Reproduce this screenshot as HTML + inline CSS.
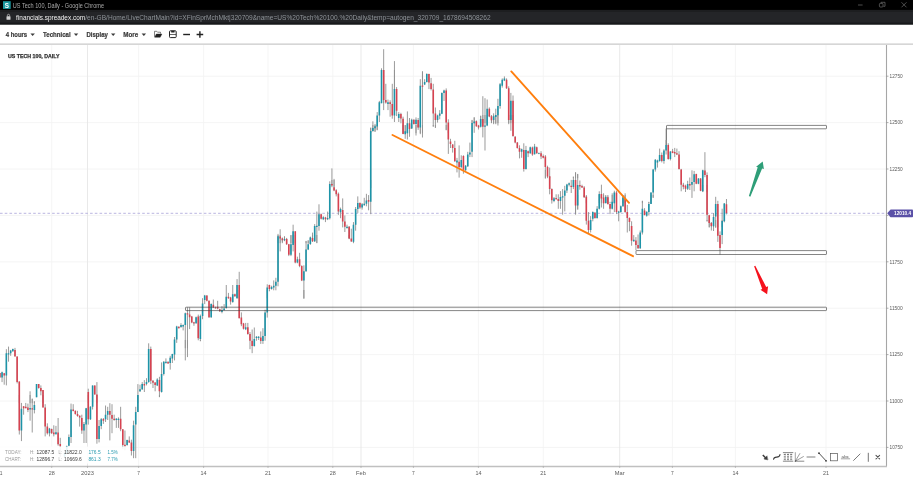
<!DOCTYPE html>
<html lang="en"><head><meta charset="utf-8"><title>US Tech 100, Daily - Google Chrome</title>
<style>
html,body{margin:0;padding:0;background:#fff;}
body{width:913px;height:479px;overflow:hidden;position:relative;font-family:"Liberation Sans",sans-serif;}
svg{display:block}
</style></head><body>
<svg id="chart" width="913" height="479" viewBox="0 0 913 479" style="position:absolute;left:0;top:0">
<path d="M0 76.2H886M0 122.6H886M0 169.0H886M0 215.4H886M0 261.8H886M0 308.2H886M0 354.6H886M0 401.0H886M0 447.4H886" stroke="#f1f1f1" stroke-width="0.8" fill="none"/>
<path d="M51.7 45V466M138.6 45V466M203.6 45V466M268.0 45V466M332.8 45V466M413.4 45V466M478.4 45V466M543.3 45V466M672.4 45V466M735.4 45V466M826.0 45V466" stroke="#f3f3f3" stroke-width="0.8" fill="none"/>
<path d="M87.5 45V466M361.0 45V466M619.7 45V466" stroke="#e6e6e6" stroke-width="0.9" fill="none"/>
<path d="M0 213.3H886" stroke="#b2aedc" stroke-width="0.9" stroke-dasharray="2.6 2.14" fill="none"/>
<!--CANDLES-->
<path d="M666.5 128.5V145" stroke="#555" stroke-width="0.9" fill="none"/>
<path d="M-0.11 372.9V377.5M2.05 371.6V382.1M4.21 372.9V384.7M6.36 349.2V385.4M8.52 346.6V361.7M10.67 349.9V355.8M12.83 348.6V351.8M14.99 347.9V356.4M17.14 356.4V383.4M19.30 381.4V403.2M30.08 391.3V403.2M32.23 398.6V403.2M34.39 401.2V403.2M36.55 384.1V397.2M38.70 384.1V388.7M40.86 385.4V395.3M43.01 390.0V403.2M88.29 388.7V403.2M92.60 385.4V403.2M94.76 385.4V394.6M96.91 382.1V403.2M19.30 395.0V434.5M21.45 402.9V441.1M23.61 406.2V414.7M25.77 402.9V408.2M27.92 403.6V412.1M30.08 395.0V420.7M32.23 398.9V432.5M34.39 401.6V413.4M36.55 395.0V397.0M43.01 395.0V407.5M45.17 404.2V436.4M47.33 423.3V434.5M49.48 427.9V436.4M51.64 428.6V433.8M53.79 425.3V436.4M55.95 425.9V434.5M58.11 418.0V445.7M60.26 437.8V456.8M64.57 451.6V456.8M66.73 445.7V452.9M68.89 434.5V446.3M71.04 403.6V443.0M73.20 404.2V411.4M75.35 410.5V414.7M77.51 410.8V416.7M79.67 415.4V426.6M81.82 414.7V433.8M83.98 422.0V443.0M86.13 407.9V443.0M88.29 395.0V424.6M90.45 406.2V420.0M92.60 395.0V409.5M96.91 395.0V443.7M99.07 420.0V442.4M101.23 418.0V429.2M103.38 418.0V423.9M105.54 405.5V422.0M107.69 406.8V420.0M109.85 403.2V440.4M112.01 404.2V433.2M114.16 414.7V420.7M116.32 418.0V427.9M118.47 417.4V427.9M120.63 406.8V431.2M122.79 429.2V448.9M124.94 430.5V450.3M127.10 439.7V445.7M129.25 436.4V443.0M131.41 439.7V455.5M133.57 420.7V458.2M135.72 406.8V458.2M137.88 395.0V412.1M159.44 395.0V397.0M137.88 384.1V403.2M140.03 384.7V392.0M142.19 382.1V390.0M144.35 380.1V392.0M146.50 378.2V385.4M148.66 343.3V382.8M150.81 346.6V384.1M152.97 380.1V388.0M155.13 382.1V391.3M157.28 378.2V386.1M159.44 376.8V397.2M161.59 362.4V392.6M163.75 361.1V375.5M165.91 358.4V363.7M168.06 361.1V363.7M170.22 355.8V369.6M172.37 353.8V363.0M174.53 340.0V360.4M185.31 340.0V360.4M187.47 340.0V357.1M200.40 340.0V341.3M174.53 337.0V348.2M176.69 325.8V342.9M178.84 326.4V328.4M181.00 323.2V327.8M183.15 324.5V330.4M185.31 312.6V348.2M187.47 307.4V348.2M189.62 307.4V329.1M191.78 315.9V323.2M193.93 321.8V325.8M196.09 316.6V323.8M198.25 314.6V340.3M200.40 314.6V340.9M202.56 298.2V319.2M204.71 294.9V304.1M206.87 295.3V301.4M209.03 300.5V317.9M211.18 303.4V317.9M213.34 299.5V308.0M215.49 306.7V308.7M217.65 300.8V309.3M219.81 308.7V312.0M221.96 306.1V313.3M224.12 304.1V310.7M226.27 285.0V308.7M228.43 292.9V298.8M230.59 296.8V304.7M232.74 285.0V302.8M234.90 293.6V296.8M237.05 290.0V298.6M239.21 290.0V318.3M241.37 312.4V326.2M243.52 322.9V329.5M245.68 322.9V330.1M247.83 322.9V334.7M249.99 332.1V349.2M252.15 329.5V353.2M254.30 327.5V346.6M256.46 336.1V340.7M258.61 336.1V340.0M260.77 331.4V343.9M262.93 328.2V343.9M265.08 309.7V340.7M267.24 290.0V317.6M269.39 290.0V291.3M303.89 290.0V298.9M237.05 279.1V298.2M239.21 271.8V298.2M267.24 284.3V298.2M269.39 284.7V290.3M271.55 285.7V289.6M273.71 280.4V290.3M275.86 277.8V290.3M278.02 235.0V286.3M280.17 235.0V251.4M282.33 237.6V242.2M284.49 236.3V240.9M286.64 238.7V244.9M288.80 243.9V256.1M290.95 235.0V256.1M293.11 235.0V251.4M295.27 235.0V263.3M297.42 256.7V263.3M299.58 252.8V267.2M301.73 265.3V281.1M303.89 265.3V298.2M306.05 240.9V271.8M308.20 240.3V250.1M310.36 237.0V244.9M312.51 235.0V241.6M314.67 235.0V241.6M316.83 235.0V242.9M349.17 235.0V238.3M278.02 233.9V243.2M280.17 229.3V243.2M282.33 237.9V243.2M284.49 236.6V241.2M286.64 237.9V243.2M290.95 235.3V243.2M293.11 224.7V243.2M295.27 231.3V243.2M306.05 241.2V243.2M308.20 240.5V243.2M310.36 236.6V243.2M312.51 232.6V241.8M314.67 224.1V241.8M316.83 211.6V243.2M318.98 204.3V230.7M321.14 213.6V219.5M323.29 216.2V220.1M325.45 216.8V222.1M327.61 211.6V220.1M329.76 181.3V219.5M331.92 180.0V187.2M334.07 180.0V191.2M336.23 189.2V196.4M338.39 192.5V214.9M340.54 207.6V218.2M342.70 198.4V227.4M344.85 215.5V232.0M347.01 224.7V228.7M349.17 226.7V238.6M349.17 226.1V239.2M351.32 228.7V241.8M353.48 222.1V243.2M355.63 207.0V230.7M357.79 196.4V212.9M359.95 202.4V208.9M362.10 203.0V209.6M364.26 197.8V205.7M366.41 193.8V206.3M368.57 195.1V210.3M370.73 180.0V214.2M370.73 127.6V188.2M372.88 125.0V131.6M375.04 125.0V131.6M377.19 125.0V130.3M403.07 125.0V134.2M405.22 125.0V138.8M407.38 125.0V139.5M409.53 125.0V136.8M411.69 125.0V128.3M416.00 125.0V135.5M418.16 125.0V127.4M420.31 125.0V134.2M422.47 125.0V137.5M433.25 125.0V126.6M435.41 125.0V127.6M446.19 125.0V130.3M448.34 125.0V153.9M450.50 138.8V148.0M452.65 144.1V152.6M454.81 140.8V161.8M456.97 157.9V172.4M459.12 145.4V177.6M461.28 155.3V168.4M463.43 155.3V173.7M370.73 127.9V133.2M372.88 121.3V131.2M375.04 123.9V131.8M377.19 112.1V129.9M379.35 100.9V122.0M381.51 70.0V102.9M383.66 70.0V110.1M385.82 83.8V103.6M387.97 99.6V110.1M390.13 100.3V116.7M392.29 83.8V118.7M394.44 70.0V122.0M396.60 87.1V116.1M398.75 112.1V122.0M400.91 112.8V123.3M403.07 116.7V133.2M405.22 125.3V133.2M407.38 111.4V133.2M409.53 118.0V133.2M411.69 118.7V128.9M413.85 119.3V124.6M416.00 117.4V133.2M418.16 118.0V129.9M420.31 79.2V133.2M422.47 71.3V133.2M424.63 79.2V85.1M426.78 73.3V82.5M428.94 73.7V89.1M431.09 77.9V90.4M433.25 83.8V126.6M435.41 107.5V127.9M437.56 114.7V122.6M439.72 110.1V119.3M441.87 92.4V114.1M444.03 89.7V100.9M446.19 88.4V129.9M448.34 119.3V133.2M381.51 68.3V103.2M383.66 49.2V103.2M394.44 61.1V89.3M422.47 71.6V85.4M472.06 119.9V123.2M474.21 117.2V123.2M476.37 120.5V123.2M480.68 115.9V123.2M482.84 96.2V123.2M484.99 98.2V123.2M487.15 99.5V123.2M489.31 107.4V117.2M491.46 115.9V123.2M493.62 113.3V123.2M495.77 108.7V123.2M497.93 98.8V123.2M500.09 83.0V108.7M502.24 78.4V87.6M504.40 76.4V81.1M506.55 78.4V88.9M508.71 86.3V123.2M510.87 92.9V123.2M513.02 95.5V123.2M465.59 165.0V170.9M467.75 151.8V167.0M469.90 142.6V157.1M472.06 120.3V157.1M474.21 117.6V132.8M476.37 120.9V126.8M478.53 124.9V129.5M480.68 115.7V127.5M482.84 115.0V137.4M484.99 115.0V150.5M487.15 115.0V126.2M489.31 115.0V116.3M491.46 115.0V122.9M493.62 115.0V124.2M495.77 115.0V124.2M497.93 115.0V125.5M508.71 115.0V124.2M510.87 115.0V130.8M513.02 115.0V136.7M515.18 136.1V143.3M517.33 142.0V148.6M519.49 145.3V158.4M521.65 148.6V157.8M523.80 143.3V171.6M525.96 145.9V169.6M528.11 150.5V157.1M530.27 146.6V153.8M532.43 146.6V155.8M534.58 143.9V154.5M536.74 146.6V153.8M538.89 152.5V154.2M541.05 151.2V159.1M543.21 154.5V158.4M545.36 155.1V178.2M547.52 165.7V178.2M549.67 167.6V178.2M573.39 176.8V178.2M575.55 172.2V178.2M577.70 174.2V178.2M545.36 170.0V178.6M547.52 170.0V176.6M549.67 176.6V194.3M551.83 188.4V203.6M553.99 197.0V202.2M556.14 194.3V199.6M558.30 194.3V208.8M560.45 191.1V208.8M562.61 189.1V214.7M564.77 185.8V211.4M566.92 183.8V193.0M569.08 182.5V186.4M571.23 179.9V193.0M573.39 176.6V189.1M575.55 172.6V214.7M577.70 173.9V209.5M579.86 180.5V189.7M582.01 184.7V188.0M584.17 186.1V197.9M586.33 195.9V203.2M599.26 191.3V203.2M601.42 184.7V203.2M603.57 193.3V203.2M605.73 195.9V203.2M607.89 196.6V203.2M610.04 201.8V203.2M612.20 193.3V203.2M614.35 190.7V203.2M616.51 190.7V203.2M622.98 196.6V203.2M625.13 193.3V203.2M642.38 200.8V203.2M648.85 201.8V203.2M651.01 192.4V203.2M653.16 168.9V197.9M655.32 159.1V171.6M657.47 159.7V167.6M659.63 148.6V161.7M661.79 152.5V162.4M663.94 149.2V163.7M666.10 140.0V154.5M668.25 143.3V159.7M670.41 151.2V160.4M672.57 148.9V153.2M674.72 147.9V157.1M676.88 148.6V155.1M679.03 151.2V169.6M681.19 168.9V191.3M683.35 182.8V189.3M685.50 184.7V192.0M687.66 180.8V190.0M689.81 177.5V190.0M691.97 170.3V197.9M694.13 170.9V191.3M575.55 195.0V214.1M577.70 195.0V209.5M584.17 195.0V197.0M586.33 195.0V224.6M588.48 212.1V233.2M590.64 216.1V232.5M592.79 211.4V221.3M594.95 212.1V218.7M597.11 206.2V218.7M599.26 195.0V209.5M601.42 195.0V207.5M603.57 195.0V208.8M605.73 195.0V202.9M607.89 195.0V204.2M610.04 203.6V214.1M612.20 195.0V209.5M614.35 195.0V212.1M616.51 195.0V214.1M618.67 210.8V221.3M620.82 205.5V212.8M622.98 195.0V206.8M625.13 195.0V212.8M627.29 204.9V232.5M629.45 217.4V231.2M631.60 221.3V245.7M633.76 235.1V241.7M635.91 237.1V250.3M638.07 234.5V248.9M640.23 230.5V248.9M642.38 200.9V234.5M644.54 208.2V215.4M646.69 211.4V216.7M648.85 202.2V215.4M651.01 195.0V203.9M653.16 195.0V197.6M666.10 128.6V145.0M696.28 173.7V184.2M698.44 178.1V184.2M700.59 178.1V191.2M702.75 169.7V192.1M704.91 152.2V177.2M707.06 172.4V192.1M700.59 185.0V190.7M702.75 185.0V191.6M707.06 185.0V221.4M709.22 214.8V227.1M711.37 222.3V227.1M713.53 213.1V227.1M715.69 196.8V227.1M717.84 200.8V227.1M722.15 208.7V227.1M724.31 203.0V222.3M726.47 199.0V214.4M707.06 220.0V221.3M709.22 220.0V227.5M711.37 222.2V230.5M713.53 220.0V231.0M715.69 220.0V227.9M717.84 220.0V241.9M720.00 231.4V254.6M722.15 220.0V244.1M724.31 220.0V221.3M331.92 168.4V185.1M334.07 178.9V186.8" stroke="#909090" stroke-width="0.9" fill="none"/>
<path d="M2.05 372.2V377.5M6.36 353.2V375.5M8.52 353.2V354.5M10.67 350.5V353.2M12.83 348.9V351.2M36.55 384.1V397.2M92.60 385.4V403.2M21.45 408.8V430.5M30.08 407.9V409.5M34.39 404.9V410.1M36.55 395.0V397.0M49.48 428.6V433.2M55.95 432.2V434.2M64.57 452.9V456.8M66.73 446.3V452.9M68.89 437.1V445.7M71.04 409.5V437.1M83.98 423.9V430.5M86.13 408.2V424.6M90.45 406.8V419.3M92.60 395.0V406.8M99.07 425.9V439.1M101.23 419.3V425.9M105.54 414.7V419.3M107.69 411.1V414.7M116.32 418.7V420.0M118.47 418.7V420.0M127.10 440.0V445.0M133.57 425.3V450.9M135.72 412.1V424.6M137.88 395.0V412.1M137.88 395.3V403.2M140.03 389.3V391.3M142.19 384.1V389.3M146.50 382.1V384.1M148.66 348.9V382.1M157.28 379.5V385.4M161.59 373.9V392.0M163.75 361.7V373.9M165.91 361.7V363.0M170.22 357.8V363.0M172.37 354.1V358.4M174.53 340.0V354.5M174.53 339.6V348.2M176.69 326.4V339.6M181.00 325.1V327.1M183.15 325.1V326.4M185.31 313.3V325.1M196.09 317.2V323.2M200.40 315.9V338.9M202.56 303.4V315.9M204.71 295.5V300.1M211.18 304.1V317.2M221.96 310.0V312.0M224.12 308.4V310.0M226.27 296.8V308.0M232.74 294.2V302.1M237.05 290.0V295.9M245.68 327.2V329.2M254.30 338.9V345.9M256.46 336.7V338.0M258.61 336.7V338.0M262.93 336.1V341.1M265.08 312.4V336.1M267.24 290.0V312.4M237.05 285.0V298.2M267.24 287.6V298.2M271.55 287.0V288.9M273.71 285.7V287.6M275.86 281.7V285.7M278.02 236.3V281.7M284.49 238.9V240.3M290.95 244.2V254.7M293.11 235.0V244.9M297.42 259.3V262.6M303.89 271.2V280.4M306.05 249.5V271.2M308.20 244.2V249.5M310.36 237.6V243.9M314.67 235.0V240.9M278.02 236.6V243.2M284.49 238.9V240.3M293.11 231.3V243.2M310.36 237.6V243.2M314.67 226.1V241.2M316.83 225.8V227.1M318.98 214.2V226.1M323.29 217.2V219.2M327.61 217.9V219.2M329.76 183.9V218.2M340.54 208.9V212.2M347.01 226.7V228.0M353.48 224.7V241.8M355.63 208.9V224.7M357.79 203.0V208.9M362.10 204.3V207.6M364.26 203.7V205.3M366.41 200.4V203.7M370.73 180.0V201.7M370.73 130.9V188.2M372.88 128.3V130.9M375.04 126.3V128.3M377.19 125.0V126.6M405.22 131.6V134.2M407.38 125.0V131.6M411.69 125.0V128.3M420.31 125.0V127.4M456.97 160.5V162.5M461.28 159.9V167.1M370.73 131.2V133.2M372.88 127.9V130.5M375.04 126.6V127.9M377.19 115.4V126.6M379.35 102.2V115.4M381.51 70.0V102.2M387.97 102.2V103.9M394.44 89.1V115.4M398.75 114.1V118.0M405.22 131.2V133.2M407.38 123.3V133.2M411.69 119.7V128.6M416.00 119.7V123.9M420.31 85.8V127.2M424.63 82.1V84.5M426.78 73.9V82.1M437.56 115.4V120.0M439.72 113.4V115.8M441.87 93.0V113.7M444.03 90.4V93.0M381.51 70.0V103.2M474.21 121.8V123.2M480.68 119.2V123.2M487.15 108.7V123.2M493.62 116.6V119.9M495.77 115.3V116.8M497.93 106.1V115.3M500.09 84.3V106.1M502.24 79.7V85.7M504.40 78.4V80.4M510.87 100.8V119.9M465.59 165.7V170.3M467.75 154.5V166.3M469.90 152.5V154.5M472.06 122.9V151.8M474.21 121.6V122.9M480.68 118.9V126.8M484.99 125.5V126.8M487.15 115.0V125.5M493.62 116.3V119.6M495.77 115.0V117.0M510.87 115.0V119.6M521.65 149.2V151.8M525.96 149.9V168.9M530.27 147.2V153.2M534.58 146.6V154.2M538.89 152.9V153.8M553.99 198.3V200.9M560.45 197.0V200.9M562.61 196.3V197.6M564.77 190.4V195.7M566.92 184.5V190.4M569.08 183.2V184.7M573.39 179.9V187.1M577.70 185.1V205.5M599.26 193.9V203.2M605.73 197.2V203.2M612.20 201.8V203.2M614.35 192.6V203.2M622.98 197.9V203.2M651.01 192.6V203.2M653.16 169.6V192.6M655.32 159.7V169.6M657.47 160.4V162.4M659.63 155.1V161.1M663.94 150.5V161.1M666.10 145.0V150.5M670.41 151.6V159.1M687.66 184.1V188.7M691.97 182.1V184.7M694.13 174.2V182.1M577.70 195.0V205.5M590.64 220.0V229.9M592.79 212.1V218.7M597.11 208.8V218.0M599.26 195.0V208.8M605.73 197.0V202.9M612.20 202.2V208.8M614.35 195.0V202.2M618.67 211.4V212.8M620.82 206.2V212.1M622.98 197.6V206.2M633.76 239.7V241.3M640.23 232.5V248.3M642.38 208.8V232.5M646.69 211.8V215.8M648.85 203.9V212.1M651.01 195.0V203.9M698.44 178.5V183.8M702.75 170.2V191.2M702.75 185.0V191.1M713.53 217.0V226.2M715.69 203.9V216.6M722.15 221.0V227.1M724.31 203.4V221.0M713.53 220.0V226.1M722.15 220.9V234.9M724.31 220.0V221.3" stroke="#1d94a8" stroke-width="1.6" fill="none"/>
<path d="M-0.11 372.9V377.5M4.21 373.2V375.5M14.99 349.9V356.4M17.14 356.4V382.1M19.30 381.4V403.2M38.70 384.1V388.0M40.86 388.0V391.3M43.01 390.0V403.2M88.29 392.0V403.2M94.76 385.4V394.6M96.91 394.6V403.2M19.30 395.0V430.5M23.61 406.2V408.2M25.77 406.8V408.2M27.92 407.5V410.1M32.23 408.2V409.5M43.01 395.0V407.5M45.17 407.5V426.6M47.33 426.6V433.2M51.64 428.9V433.2M53.79 432.5V434.2M58.11 432.5V444.3M60.26 443.9V446.3M73.20 409.5V411.1M75.35 410.8V414.1M77.51 414.1V416.1M79.67 415.8V417.6M81.82 418.0V430.5M88.29 395.0V419.3M96.91 395.0V439.1M103.38 419.1V420.7M109.85 411.1V414.7M112.01 415.0V418.7M114.16 418.7V420.0M120.63 418.7V429.2M122.79 429.2V445.0M124.94 444.7V446.1M129.25 440.4V442.4M131.41 442.4V450.9M144.35 384.1V385.4M150.81 348.9V380.8M152.97 380.8V382.8M155.13 382.4V385.0M159.44 380.1V391.3M168.06 362.0V363.4M178.84 326.8V328.2M187.47 313.3V314.6M189.62 314.6V317.2M191.78 316.6V322.5M193.93 322.2V323.6M198.25 316.6V338.3M206.87 295.5V300.8M209.03 300.8V317.2M213.34 304.7V307.4M215.49 307.4V308.3M217.65 306.7V308.4M219.81 309.3V311.3M228.43 296.8V298.2M230.59 297.5V301.4M234.90 294.2V296.2M239.21 290.0V318.3M241.37 317.6V324.2M243.52 323.6V328.8M247.83 327.2V334.1M249.99 334.1V340.7M252.15 340.7V345.9M260.77 337.4V341.1M239.21 285.0V298.2M269.39 285.0V288.9M280.17 236.6V238.3M282.33 238.7V240.3M286.64 238.9V244.2M288.80 244.2V254.7M295.27 235.0V262.6M299.58 259.3V265.9M301.73 265.9V280.4M312.51 237.9V240.9M349.17 235.0V238.3M280.17 236.6V238.6M282.33 238.6V240.3M286.64 239.2V243.2M295.27 231.3V243.2M312.51 237.9V241.2M321.14 214.2V218.8M325.45 217.5V219.2M331.92 183.9V185.5M334.07 187.2V190.5M336.23 190.3V194.2M338.39 193.8V211.6M342.70 210.0V221.4M344.85 221.4V226.7M349.17 226.7V238.6M351.32 238.6V241.6M359.95 203.0V207.6M368.57 200.0V201.7M403.07 125.0V133.9M409.53 125.0V128.9M418.16 125.0V127.4M448.34 125.0V139.5M450.50 141.4V144.1M452.65 144.5V148.0M454.81 148.0V161.2M459.12 161.8V167.1M463.43 155.9V169.7M383.66 70.0V99.6M385.82 100.0V102.6M390.13 102.2V103.9M392.29 103.9V115.4M396.60 89.1V110.8M400.91 114.1V118.4M403.07 118.7V133.2M409.53 123.3V128.6M413.85 119.7V123.9M418.16 120.0V127.2M422.47 85.5V86.8M428.94 73.9V82.5M431.09 83.2V89.1M433.25 89.5V113.4M435.41 113.4V120.0M446.19 90.4V122.6M448.34 122.6V133.2M383.66 70.0V99.9M476.37 121.2V123.2M482.84 119.2V123.2M489.31 108.7V116.6M491.46 116.6V119.9M506.55 79.7V88.3M508.71 88.3V119.9M513.02 100.8V123.2M476.37 121.6V126.2M478.53 125.5V127.5M482.84 118.9V126.8M489.31 115.0V116.3M491.46 116.3V120.3M508.71 115.0V119.6M513.02 115.0V136.1M515.18 136.7V142.6M517.33 142.6V147.9M519.49 147.9V151.8M523.80 149.9V168.9M528.11 151.2V153.2M532.43 147.6V154.5M536.74 147.2V153.2M541.05 153.2V156.4M543.21 156.1V157.8M545.36 156.4V167.0M547.52 167.0V176.2M549.67 176.2V178.2M547.52 170.0V176.6M549.67 176.6V189.1M551.83 189.1V200.3M556.14 197.9V199.2M558.30 198.9V200.9M571.23 185.8V187.1M575.55 179.9V205.5M579.86 185.1V186.4M582.01 186.1V187.6M584.17 187.6V197.2M586.33 196.8V203.2M601.42 193.9V198.6M603.57 197.9V203.2M607.89 197.2V203.2M616.51 192.6V203.2M625.13 199.2V203.2M661.79 155.1V161.1M668.25 145.0V159.1M672.57 151.2V152.9M674.72 152.1V153.4M676.88 153.2V154.5M679.03 154.5V168.9M681.19 169.6V184.7M683.35 184.7V186.7M685.50 185.8V188.7M689.81 184.1V185.4M575.55 195.0V205.5M584.17 195.0V197.0M586.33 197.0V220.7M588.48 220.7V229.9M594.95 212.8V218.0M601.42 195.0V197.6M603.57 197.6V202.2M607.89 197.6V204.2M610.04 203.9V208.8M616.51 195.0V212.1M625.13 198.9V212.1M627.29 212.1V218.0M629.45 218.0V222.0M631.60 225.9V240.8M635.91 240.4V245.0M638.07 245.0V248.3M644.54 210.5V215.0M696.28 174.1V183.8M700.59 178.5V190.8M704.91 170.6V175.0M707.06 175.0V192.1M700.59 185.0V190.7M707.06 185.0V214.8M709.22 215.3V222.7M711.37 223.2V225.8M717.84 203.9V227.1M726.47 204.3V213.1M709.22 220.0V223.1M711.37 223.1V226.1M717.84 220.0V235.8M720.00 234.9V248.1" stroke="#d74250" stroke-width="1.6" fill="none"/>

<g fill="none" stroke="#3f3f3f" stroke-opacity="0.8" stroke-width="0.8"><rect x="185.5" y="307.2" width="641" height="3.4" rx="0.6"/><rect x="636" y="250.6" width="190.5" height="3.9" rx="0.6"/><rect x="666.5" y="125.4" width="160" height="3.4" rx="0.6"/></g>
<path d="M511.3 71.4L629 202.8M392.5 135L633 256.2" stroke="#ff7f0e" stroke-width="1.9" stroke-linecap="round" fill="none"/>
<path d="M748.9 195.9L757.7 167.3L756.1 166.7L762.7 161.4L763.9 169.1L762.1 168.6L750.3 196.7Z" fill="#2e9e78"/>
<path d="M754.1 266.3L762.2 289L760.5 289.8L767.1 294.2L768.1 286.3L766.2 287.1L755.3 265.7Z" fill="#f5121d"/>
<path d="M886.5 45V466.5" stroke="#a6a6a6" stroke-width="1.1" fill="none"/>
<path d="M0 466.5H887" stroke="#c0c0c0" stroke-width="1.3" fill="none"/>
<path d="M886.5 76.2h2M886.5 122.6h2M886.5 169.0h2M886.5 215.4h2M886.5 261.8h2M886.5 308.2h2M886.5 354.6h2M886.5 401.0h2M886.5 447.4h2" stroke="#8a8a8a" stroke-width="0.7" fill="none"/>
<path d="M51.7 466v2M87.5 466v2M138.6 466v2M203.6 466v2M268.0 466v2M332.8 466v2M361.0 466v2M413.4 466v2M478.4 466v2M543.3 466v2M619.7 466v2M672.4 466v2M735.4 466v2M826.0 466v2" stroke="#aaa" stroke-width="0.7" fill="none"/>
<g font-family="Liberation Sans, sans-serif">
<text x="889.6" y="77.9" font-size="5.2" fill="#5a5a5a" font-weight="normal" textLength="13.1" lengthAdjust="spacingAndGlyphs">12750</text>
<text x="889.6" y="124.3" font-size="5.2" fill="#5a5a5a" font-weight="normal" textLength="13.1" lengthAdjust="spacingAndGlyphs">12500</text>
<text x="889.6" y="170.7" font-size="5.2" fill="#5a5a5a" font-weight="normal" textLength="13.1" lengthAdjust="spacingAndGlyphs">12250</text>
<text x="889.6" y="217.1" font-size="5.2" fill="#5a5a5a" font-weight="normal" textLength="13.1" lengthAdjust="spacingAndGlyphs">12000</text>
<text x="889.6" y="263.5" font-size="5.2" fill="#5a5a5a" font-weight="normal" textLength="13.1" lengthAdjust="spacingAndGlyphs">11750</text>
<text x="889.6" y="309.9" font-size="5.2" fill="#5a5a5a" font-weight="normal" textLength="13.1" lengthAdjust="spacingAndGlyphs">11500</text>
<text x="889.6" y="356.3" font-size="5.2" fill="#5a5a5a" font-weight="normal" textLength="13.1" lengthAdjust="spacingAndGlyphs">11250</text>
<text x="889.6" y="402.7" font-size="5.2" fill="#5a5a5a" font-weight="normal" textLength="13.1" lengthAdjust="spacingAndGlyphs">11000</text>
<text x="889.6" y="449.1" font-size="5.2" fill="#5a5a5a" font-weight="normal" textLength="13.1" lengthAdjust="spacingAndGlyphs">10750</text>
<text x="-0.2" y="474.5" font-size="6.2" fill="#5a5a5a" font-weight="normal" textLength="2.7" lengthAdjust="spacingAndGlyphs">1</text>
<text x="48.7" y="474.5" font-size="6.2" fill="#5a5a5a" font-weight="normal" textLength="6.0" lengthAdjust="spacingAndGlyphs">28</text>
<text x="81.1" y="474.5" font-size="6.2" fill="#5a5a5a" font-weight="normal" textLength="12.8" lengthAdjust="spacingAndGlyphs">2023</text>
<text x="137.2" y="474.5" font-size="6.2" fill="#5a5a5a" font-weight="normal" textLength="2.7" lengthAdjust="spacingAndGlyphs">7</text>
<text x="200.6" y="474.5" font-size="6.2" fill="#5a5a5a" font-weight="normal" textLength="6.0" lengthAdjust="spacingAndGlyphs">14</text>
<text x="265.0" y="474.5" font-size="6.2" fill="#5a5a5a" font-weight="normal" textLength="6.0" lengthAdjust="spacingAndGlyphs">21</text>
<text x="329.8" y="474.5" font-size="6.2" fill="#5a5a5a" font-weight="normal" textLength="6.0" lengthAdjust="spacingAndGlyphs">28</text>
<text x="356.1" y="474.5" font-size="6.2" fill="#5a5a5a" font-weight="normal" textLength="9.9" lengthAdjust="spacingAndGlyphs">Feb</text>
<text x="412.0" y="474.5" font-size="6.2" fill="#5a5a5a" font-weight="normal" textLength="2.7" lengthAdjust="spacingAndGlyphs">7</text>
<text x="475.4" y="474.5" font-size="6.2" fill="#5a5a5a" font-weight="normal" textLength="6.0" lengthAdjust="spacingAndGlyphs">14</text>
<text x="540.3" y="474.5" font-size="6.2" fill="#5a5a5a" font-weight="normal" textLength="6.0" lengthAdjust="spacingAndGlyphs">21</text>
<text x="614.8" y="474.5" font-size="6.2" fill="#5a5a5a" font-weight="normal" textLength="9.9" lengthAdjust="spacingAndGlyphs">Mar</text>
<text x="671.0" y="474.5" font-size="6.2" fill="#5a5a5a" font-weight="normal" textLength="2.7" lengthAdjust="spacingAndGlyphs">7</text>
<text x="732.4" y="474.5" font-size="6.2" fill="#5a5a5a" font-weight="normal" textLength="6.0" lengthAdjust="spacingAndGlyphs">14</text>
<text x="823.0" y="474.5" font-size="6.2" fill="#5a5a5a" font-weight="normal" textLength="6.0" lengthAdjust="spacingAndGlyphs">21</text>
</g>
<path d="M887.2 213.3L890.6 209.4H912.2Q913 209.4 913 210.2V216.4Q913 217.2 912.2 217.2H890.6Z" fill="#5a50a7"/>
<g font-family="Liberation Sans, sans-serif"><text x="894.1" y="215.1" font-size="5.0" fill="#fff" font-weight="bold" textLength="17.1" lengthAdjust="spacingAndGlyphs">12010.4</text></g>
<rect x="0" y="446.6" width="130" height="17" fill="#fff" fill-opacity="0.88"/>
<g font-family="Liberation Sans, sans-serif">
<text x="5.0" y="453.8" font-size="5.3" fill="#9a9a9a" font-weight="normal" textLength="16.6" lengthAdjust="spacingAndGlyphs">TODAY:</text>
<text x="30.0" y="453.8" font-size="5.3" fill="#9a9a9a" font-weight="normal" textLength="4.5" lengthAdjust="spacingAndGlyphs">H:</text>
<text x="36.6" y="453.8" font-size="5.3" fill="#3a3a3a" font-weight="normal" textLength="17.6" lengthAdjust="spacingAndGlyphs">12087.5</text>
<text x="58.6" y="453.8" font-size="5.3" fill="#9a9a9a" font-weight="normal" textLength="3.2" lengthAdjust="spacingAndGlyphs">L:</text>
<text x="64.1" y="453.8" font-size="5.3" fill="#3a3a3a" font-weight="normal" textLength="17.7" lengthAdjust="spacingAndGlyphs">11822.0</text>
<text x="88.4" y="453.8" font-size="5.3" fill="#2a9bb0" font-weight="normal" textLength="12.3" lengthAdjust="spacingAndGlyphs">176.5</text>
<text x="107.6" y="453.8" font-size="5.3" fill="#2a9bb0" font-weight="normal" textLength="10.2" lengthAdjust="spacingAndGlyphs">1.5%</text>
<text x="5.0" y="460.8" font-size="5.3" fill="#9a9a9a" font-weight="normal" textLength="16.0" lengthAdjust="spacingAndGlyphs">CHART:</text>
<text x="30.0" y="460.8" font-size="5.3" fill="#9a9a9a" font-weight="normal" textLength="4.5" lengthAdjust="spacingAndGlyphs">H:</text>
<text x="36.6" y="460.8" font-size="5.3" fill="#3a3a3a" font-weight="normal" textLength="17.6" lengthAdjust="spacingAndGlyphs">12896.7</text>
<text x="58.6" y="460.8" font-size="5.3" fill="#9a9a9a" font-weight="normal" textLength="3.2" lengthAdjust="spacingAndGlyphs">L:</text>
<text x="64.1" y="460.8" font-size="5.3" fill="#3a3a3a" font-weight="normal" textLength="17.7" lengthAdjust="spacingAndGlyphs">10669.6</text>
<text x="88.4" y="460.8" font-size="5.3" fill="#2a9bb0" font-weight="normal" textLength="12.3" lengthAdjust="spacingAndGlyphs">861.3</text>
<text x="107.6" y="460.8" font-size="5.3" fill="#2a9bb0" font-weight="normal" textLength="10.2" lengthAdjust="spacingAndGlyphs">7.7%</text>
</g>
<g stroke="#3c3c3c" stroke-width="0.8" fill="none" stroke-linecap="round">
<path d="M762.8 455L766 458.2" stroke-width="1.5" stroke-linecap="butt"/><path d="M767.6 459.8L763.9 459L766.8 456.1Z" fill="#3c3c3c" stroke-width="0.5"/>
<path d="M773.6 459.3c0.2-2.2 1.6-2.2 3-2.2s3.2 0 3.4-2.6" stroke-width="1.1"/>
<path d="M783.3 452.6h9.6M783.3 461.2h9.6" stroke-width="0.7" stroke="#555"/>
<path d="M783.8 454.6h8.8M783.8 456.9h8.8M783.8 459.2h8.8" stroke-width="0.8" stroke-dasharray="2 1.2" stroke-linecap="butt"/>
<path d="M785.2 453v8M788.1 453v8M791 453v8" stroke-width="0.4" stroke="#999"/>
<path d="M795.3 452.6v8.6" stroke="#999" stroke-width="0.9"/><path d="M795.3 461.2h8.6" stroke-width="0.6"/><path d="M795.3 461.2L799.8 453.6M795.3 461.2L803.4 456.6" stroke-width="0.5"/>
<path d="M806.6 457h8.8" stroke-width="1.1" stroke="#8a8a8a" stroke-linecap="butt"/>
<path d="M819 453.2L826 460.8" stroke-width="0.9"/><circle cx="819" cy="453.2" r="0.9" fill="#3c3c3c" stroke="none"/><circle cx="826" cy="460.8" r="0.9" fill="#3c3c3c" stroke="none"/>
<rect x="830.4" y="453.4" width="7.2" height="7.4" stroke-width="0.7" stroke="#555"/>
<path d="M841.3 458.8h8.4" stroke-width="0.6" stroke="#666"/>
<path d="M853.6 460.4L860 454" stroke-width="0.7"/>
<path d="M868.3 453.2v8.2" stroke-width="0.9" stroke="#666"/>
<path d="M876 455.4l3.6 3.4M879.6 455.4l-3.6 3.4" stroke-width="1.1" stroke="#555"/>
</g>
<text x="841.6" y="457.9" font-family="Liberation Sans, sans-serif" font-size="4.3" fill="#555" textLength="7.6" lengthAdjust="spacingAndGlyphs">abc</text>
</svg>
<svg id="chrome" width="913" height="62" viewBox="0 0 913 62" style="position:absolute;left:0;top:0">
<rect x="0" y="0" width="913" height="10" fill="#000"/>
<rect x="0" y="9.9" width="913" height="14.6" fill="#1d1e20"/>
<rect x="0" y="12" width="913" height="10.8" fill="#242528"/>
<rect x="0" y="22.8" width="913" height="1.7" fill="#17181a"/>
<rect x="0" y="43.4" width="913" height="1.5" fill="#d2d2d2"/>
<rect x="3" y="1.2" width="7.7" height="7.7" fill="#1b98a0"/>
<g font-family="Liberation Sans, sans-serif">
<text x="4.8" y="7.6" font-size="7" fill="#fff" font-weight="bold" textLength="4.2" lengthAdjust="spacingAndGlyphs">S</text>
<text x="12.8" y="7.6" font-size="6.3" fill="#a9a9a9" font-weight="normal" textLength="91.2" lengthAdjust="spacingAndGlyphs">US Tech 100, Daily - Google Chrome</text>
<text x="16.1" y="19.7" font-size="7" fill="#f1f1f1" font-weight="normal" textLength="69.0" lengthAdjust="spacingAndGlyphs">financials.spreadex.com</text>
<text x="85.3" y="19.7" font-size="7" fill="#8e9398" font-weight="normal" textLength="405.3" lengthAdjust="spacingAndGlyphs">/en-GB/Home/LiveChartMain?id=XFinSprMchMkt|320709&amp;name=US%20Tech%20100.%20Daily&amp;temp=autogen_320709_1678694508262</text>
<text x="5.7" y="36.9" font-size="6.6" fill="#3b3b3b" stroke="#3b3b3b" stroke-width="0.2" font-weight="bold" textLength="21.5" lengthAdjust="spacingAndGlyphs">4 hours</text>
<text x="43.0" y="36.9" font-size="6.6" fill="#3b3b3b" stroke="#3b3b3b" stroke-width="0.2" font-weight="bold" textLength="27.6" lengthAdjust="spacingAndGlyphs">Technical</text>
<text x="86.4" y="36.9" font-size="6.6" fill="#3b3b3b" stroke="#3b3b3b" stroke-width="0.2" font-weight="bold" textLength="21.5" lengthAdjust="spacingAndGlyphs">Display</text>
<text x="123.2" y="36.9" font-size="6.6" fill="#3b3b3b" stroke="#3b3b3b" stroke-width="0.2" font-weight="bold" textLength="15.0" lengthAdjust="spacingAndGlyphs">More</text>
<text x="7.9" y="58.0" font-size="5.8" fill="#2e2e2e" stroke="#2e2e2e" stroke-width="0.25" font-weight="bold" textLength="51.7" lengthAdjust="spacingAndGlyphs">US TECH 100, DAILY</text>
</g>
<path d="M30.45 33.5h4.4l-2.2 2.4z" fill="#3b3b3b"/>
<path d="M73.85 33.5h4.4l-2.2 2.4z" fill="#3b3b3b"/>
<path d="M111.00 33.5h4.4l-2.2 2.4z" fill="#3b3b3b"/>
<path d="M141.65 33.5h4.4l-2.2 2.4z" fill="#3b3b3b"/>
<rect x="6.5" y="16.2" width="4" height="3.5" rx="0.5" fill="#cfcfcf"/><path d="M7.4 16.4v-1a1.1 1.1 0 0 1 2.2 0v1" stroke="#cfcfcf" stroke-width="0.7" fill="none"/>
<g stroke="#6e6e6e" stroke-width="0.7" fill="none"><path d="M858 5h4.6"/><rect x="879.4" y="3.4" width="3.6" height="3.6" rx="0.8"/><path d="M881 3.2v-0.9h4v4h-1.6"/><path d="M901.5 2.3l5 5M906.5 2.3l-5 5"/></g>
<g fill="none" stroke="#222" stroke-width="0.7" transform="translate(150 24.6)">
<path d="M4.5 12.2v-5.5h2.2l0.8 0.9h3v1.4" stroke-width="0.6" stroke="#333"/><path d="M4.7 12.7l1.6-3.3h5.6l-1.7 3.3z" fill="#222" stroke-width="0.4"/>
<rect x="19.5" y="6.2" width="6.7" height="6.8" rx="0.9" stroke-width="1"/><rect x="21.2" y="6.2" width="3.3" height="1.7" fill="#222" stroke="none"/><path d="M19.6 9.9h6.4" stroke-width="0.7"/>
<path d="M33.2 9.9h6.8" stroke-width="1.4"/>
<path d="M46.6 9.9h6.6M49.9 6.6v6.6" stroke-width="1.4"/>
</g>
</svg>
</body></html>
